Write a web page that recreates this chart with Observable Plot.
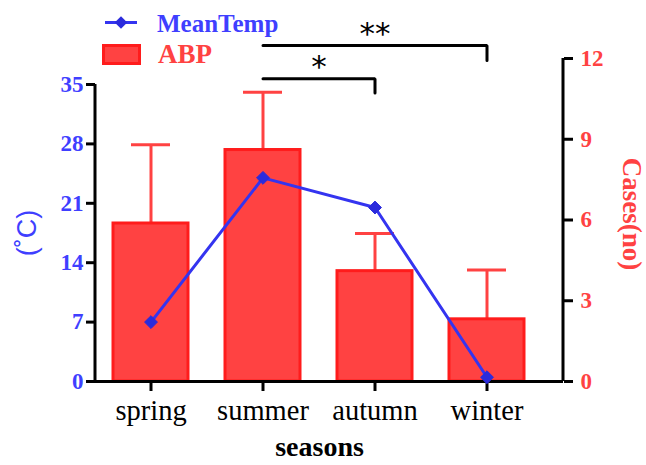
<!DOCTYPE html>
<html>
<head>
<meta charset="utf-8">
<script src="https://cdn.jsdelivr.net/npm/d3@7"></script>
<script src="https://cdn.jsdelivr.net/npm/@observablehq/plot@0.6"></script>
<style>
  html, body { margin: 0; padding: 0; background: #fff; }
  #chart svg { display: block; }
</style>
</head>
<body>
<div id="chart"></div>
<script>
// ---- data ----
const seasons = ["spring", "summer", "autumn", "winter"];
const meanTemp = [7.0, 24.0, 20.5, 0.5];        // °C (left axis)
const abpCases = [5.87, 8.6, 4.1, 2.31];        // cases (right axis)
const abpUpper = [8.8, 10.75, 5.5, 4.14];       // mean + error
const tempTicks = [0, 7, 14, 21, 28, 35];
const caseTicks = [0, 3, 6, 9, 12];
const brackets = [
  {id: "b1", from: "summer", to: "autumn", level: 11.25, drop: 10.72, label: "*"},
  {id: "b2", from: "summer", to: "winter", level: 12.48, drop: 11.93, label: "**"}
];

// temperature -> right-axis units (35 °C sits at ~11.03 cases)
const k = 11.034 / 35;

const data = seasons.map((s, i) => ({season: s, temp: meanTemp[i] * k, cases: abpCases[i], upper: abpUpper[i]}));
const bracketPts = brackets.flatMap(b => [
  {id: b.id, s: b.from, v: b.level},
  {id: b.id, s: b.to, v: b.level},
  {id: b.id, s: b.to, v: b.drop}
]);

const BLUE = "#3434f0";
const BLUE_T = "#3f3fff";
const RED = "#ff4242";
const RED_S = "#ff1c1c";
const SERIF = "'Liberation Serif', 'Times New Roman', serif";

const W = 646, H = 465, ML = 95, MR = 83, MT = 58, MB = 84;
const xOpts = {type: "band", domain: seasons, range: [ML, 543], paddingInner: 0.33, paddingOuter: 0.165};
const xs = Plot.scale({x: xOpts});
const xc = v => xs.apply(v) + xs.bandwidth / 2;
const first = seasons[0], last = seasons[seasons.length - 1];

const chart = Plot.plot({
  width: W,
  height: H,
  marginTop: MT,
  marginBottom: MB,
  marginLeft: ML,
  marginRight: MR,
  style: {fontFamily: SERIF, background: "white"},
  x: {...xOpts, axis: null},
  y: {domain: [0, 12], range: [H - MB, MT], axis: null},
  marks: [
    // error bars
    Plot.ruleX(data, {x: "season", y1: "cases", y2: "upper", stroke: RED, strokeWidth: 3}),
    Plot.tickY(data, {x: "season", y: "upper", stroke: RED, strokeWidth: 3, inset: 18}),
    // bars
    Plot.barY(data, {x: "season", y: "cases", fill: RED, stroke: RED_S, strokeWidth: 3}),
    // axis lines
    Plot.ruleY([0], {stroke: "black", strokeWidth: 3}),
    Plot.ruleX([first], {x: d => d, y1: 0, y2: tempTicks[tempTicks.length - 1] * k, dx: ML - xc(first), stroke: "black", strokeWidth: 3}),
    Plot.ruleX([last], {x: d => d, y1: 0, y2: caseTicks[caseTicks.length - 1], dx: (W - MR) - xc(last), stroke: "black", strokeWidth: 3}),
    Plot.axisY(tempTicks.map(t => t * k), {
      anchor: "left", label: null, tickSize: 9, tickPadding: 3,
      tickFormat: d => String(Math.round(d / k)),
      stroke: "black", strokeWidth: 3, fill: BLUE_T, fontSize: 23, fontWeight: "bold"
    }),
    Plot.axisY(caseTicks, {
      anchor: "right", label: null, tickSize: 9, tickPadding: 8,
      stroke: "black", strokeWidth: 3, fill: RED, fontSize: 23, fontWeight: "bold"
    }),
    Plot.axisX({
      anchor: "bottom", label: null, tickSize: 10, tickPadding: 8,
      stroke: "black", strokeWidth: 3, fill: "black", fontSize: 28.5
    }),
    // mean temperature line
    Plot.line(data, {x: "season", y: "temp", stroke: BLUE, strokeWidth: 3}),
    Plot.dot(data, {x: "season", y: "temp", symbol: "diamond2", r: 5.8, fill: "#2b2bdc", stroke: "#2b2bdc", strokeWidth: 1}),
    // significance brackets
    Plot.line(bracketPts, {x: "s", y: "v", z: "id", stroke: "black", strokeWidth: 3, strokeLinejoin: "miter"}),
    ...brackets.map(b => Plot.text([b], {
      x: "from", y: "level", text: "label",
      dx: (xc(b.to) - xc(b.from)) / 2, dy: -2,
      lineAnchor: "bottom", fontSize: 31, fill: "black", fontFamily: "'DejaVu Sans', sans-serif"
    })),
    // axis titles
    Plot.text(["(˚C)"], {frameAnchor: "left", textAnchor: "middle", lineAnchor: "middle", dx: -68, dy: 13, rotate: -90, fill: BLUE_T, fontSize: 27, fontFamily: "'Liberation Sans', Arial, sans-serif"}),
    Plot.text(["Cases(no)"], {frameAnchor: "right", textAnchor: "middle", lineAnchor: "middle", dx: 68, dy: -6, rotate: 90, fill: RED, fontSize: 27, fontWeight: "bold"}),
    Plot.text(["seasons"], {frameAnchor: "bottom", textAnchor: "middle", lineAnchor: "middle", dx: -10, dy: 66, fill: "black", fontSize: 28, fontWeight: "bold"})
  ]
});

// legend
const svg = d3.select(chart);
const lg = svg.append("g").attr("font-family", SERIF).attr("font-weight", "bold").attr("text-anchor", "start");
lg.append("line").attr("x1", 105).attr("x2", 137).attr("y1", 22.5).attr("y2", 22.5).attr("stroke", BLUE).attr("stroke-width", 3);
lg.append("path").attr("d", d3.symbol(d3.symbolDiamond2, Math.PI * 5.6 * 5.6)()).attr("transform", "translate(121,22.5)").attr("fill", "#2b2bdc");
lg.append("text").attr("x", 157).attr("y", 31.5).attr("fill", BLUE_T).attr("font-size", 25).text("MeanTemp");
lg.append("rect").attr("x", 103.5).attr("y", 45.5).attr("width", 36).attr("height", 18).attr("fill", RED).attr("stroke", RED_S).attr("stroke-width", 3);
lg.append("text").attr("x", 158).attr("y", 63).attr("fill", RED).attr("font-size", 27).text("ABP");

document.getElementById("chart").appendChild(chart);
</script>
</body>
</html>
